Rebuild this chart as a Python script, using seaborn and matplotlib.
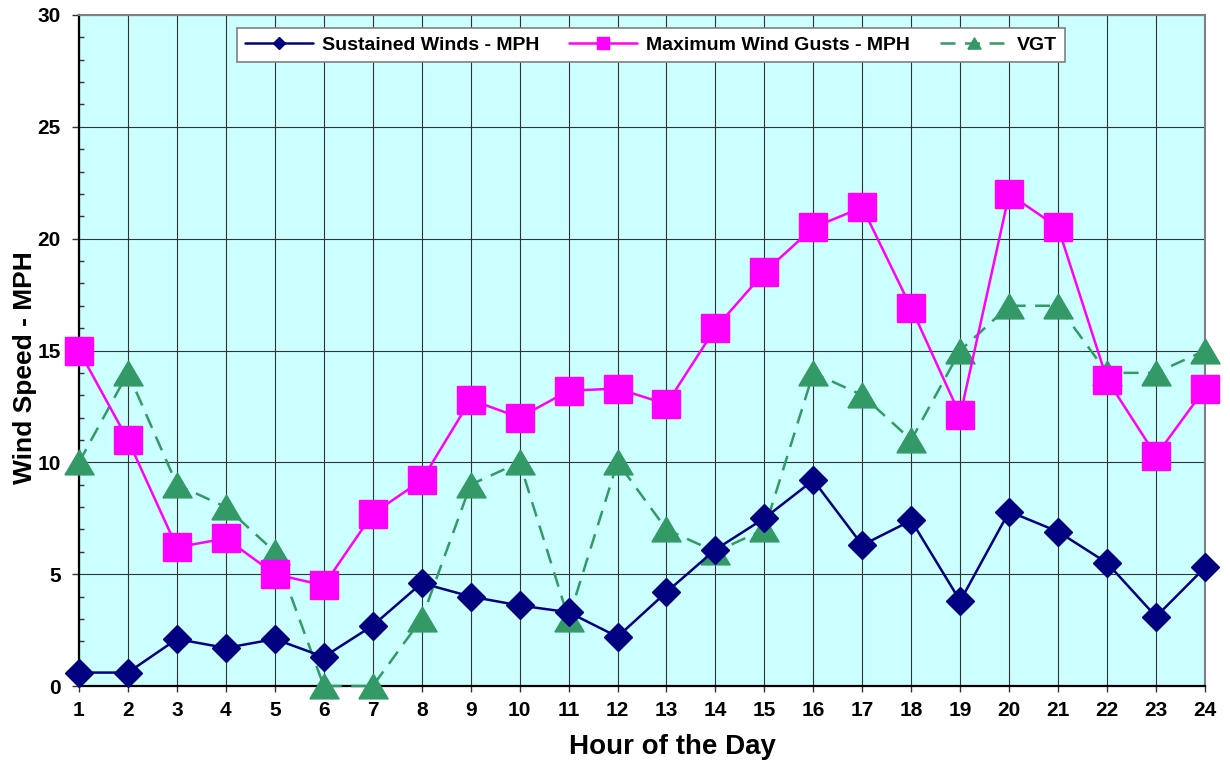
import numpy as np
import pandas as pd
import matplotlib
matplotlib.use("Agg")
import matplotlib.pyplot as plt
import seaborn as sns
from matplotlib.ticker import MultipleLocator

# Hourly wind observations
hours = list(range(1, 25))
sustained = [0.6, 0.6, 2.1, 1.7, 2.1, 1.3, 2.7, 4.6, 4.0, 3.6, 3.3, 2.2,
             4.2, 6.1, 7.5, 9.2, 6.3, 7.4, 3.8, 7.8, 6.9, 5.5, 3.1, 5.3]
gusts = [15.0, 11.0, 6.2, 6.6, 5.0, 4.5, 7.7, 9.2, 12.8, 12.0, 13.2, 13.3,
         12.6, 16.0, 18.5, 20.5, 21.4, 16.9, 12.1, 22.0, 20.5, 13.7, 10.3, 13.3]
vgt = [10, 14, 9, 8, 6, 0, 0, 3, 9, 10, 3, 10,
       7, 6, 7, 14, 13, 11, 15, 17, 17, 14, 14, 15]

series_names = ["Sustained Winds - MPH", "Maximum Wind Gusts - MPH", "VGT"]
x_label = "Hour of the Day"
y_label = "Wind Speed - MPH"

df = pd.DataFrame({"hour": hours, "sustained": sustained, "gusts": gusts, "vgt": vgt})

sns.set_style("white")
plt.rcParams["font.family"] = ["Liberation Sans", "DejaVu Sans"]
plt.rcParams["font.weight"] = "bold"
plt.rcParams["text.color"] = "black"
plt.rcParams["axes.labelcolor"] = "black"
plt.rcParams["xtick.color"] = "black"
plt.rcParams["ytick.color"] = "black"

fig = plt.figure(figsize=(12.3, 7.67), dpi=100)
ax = fig.add_axes([79 / 1230, 1 - 686 / 767, (1205 - 79) / 1230, (686 - 15) / 767])
ax.set_facecolor("#CCFFFF")

navy = "#000080"
magenta = "#FF00FF"
green = "#339966"

# wide, short triangle marker
tri = [(-1, -0.85), (1, -0.85), (0, 0.85), (-1, -0.85)]

sns.lineplot(data=df, x="hour", y="sustained", ax=ax, color=navy, linewidth=1.8,
             marker="D", markersize=14.5, markeredgecolor=navy, markeredgewidth=1,
             label=series_names[0], clip_on=False, zorder=5)
sns.lineplot(data=df, x="hour", y="gusts", ax=ax, color=magenta, linewidth=1.8,
             marker="s", markersize=20, markeredgecolor=magenta, markeredgewidth=1,
             label=series_names[1], clip_on=False, zorder=4)
sns.lineplot(data=df, x="hour", y="vgt", ax=ax, color=green, linewidth=1.8,
             marker=tri, markersize=21, markeredgecolor=green, markeredgewidth=1,
             label=series_names[2], clip_on=False, zorder=3)
ax.lines[2].set_dashes((6, 3.8))

ax.set_xlim(1, 24)
ax.set_ylim(0, 30)
ax.set_xticks(hours)
ax.yaxis.set_major_locator(MultipleLocator(5))
ax.yaxis.set_minor_locator(MultipleLocator(1))

ax.grid(True, which="major", color="#333333", linewidth=0.8)
ax.set_axisbelow(True)

ax.tick_params(axis="x", which="major", direction="out", length=4.5, width=1,
               pad=6, labelsize=15, color="#333333", labelcolor="black")
ax.tick_params(axis="y", which="major", direction="out", length=5, width=1,
               pad=8, labelsize=15, left=True, color="#333333", labelcolor="black")
ax.tick_params(axis="y", which="minor", direction="in", length=3.5, width=1,
               left=True, color="#333333")
ax.tick_params(axis="x", bottom=True)
for lbl in ax.get_xticklabels() + ax.get_yticklabels():
    lbl.set_fontweight("bold")

for side in ["left", "bottom"]:
    ax.spines[side].set_color("black")
    ax.spines[side].set_linewidth(1.6)
for side in ["top", "right"]:
    ax.spines[side].set_color("#808080")
    ax.spines[side].set_linewidth(1.5)

ax.set_xlabel(x_label, fontsize=20, fontweight="bold", color="black")
ax.set_ylabel(y_label, fontsize=19, fontweight="bold", color="black")
ax.xaxis.set_label_coords(0.527, -0.072)
ax.yaxis.set_label_coords(-0.037, 0.474)

leg = ax.legend(loc="upper center", bbox_to_anchor=(0.508, 0.98), ncol=3,
                fontsize=14, markerscale=0.45, handlelength=3.5,
                handletextpad=0.45, columnspacing=1.55, frameon=True,
                fancybox=False, borderpad=0.4, borderaxespad=0)
leg.get_frame().set_edgecolor("#808080")
leg.get_frame().set_linewidth(1.2)
leg.get_frame().set_facecolor("white")
leg.get_frame().set_alpha(1)
for t in leg.get_texts():
    t.set_fontweight("bold")
    t.set_color("black")

fig.savefig("out.png", dpi=100)
